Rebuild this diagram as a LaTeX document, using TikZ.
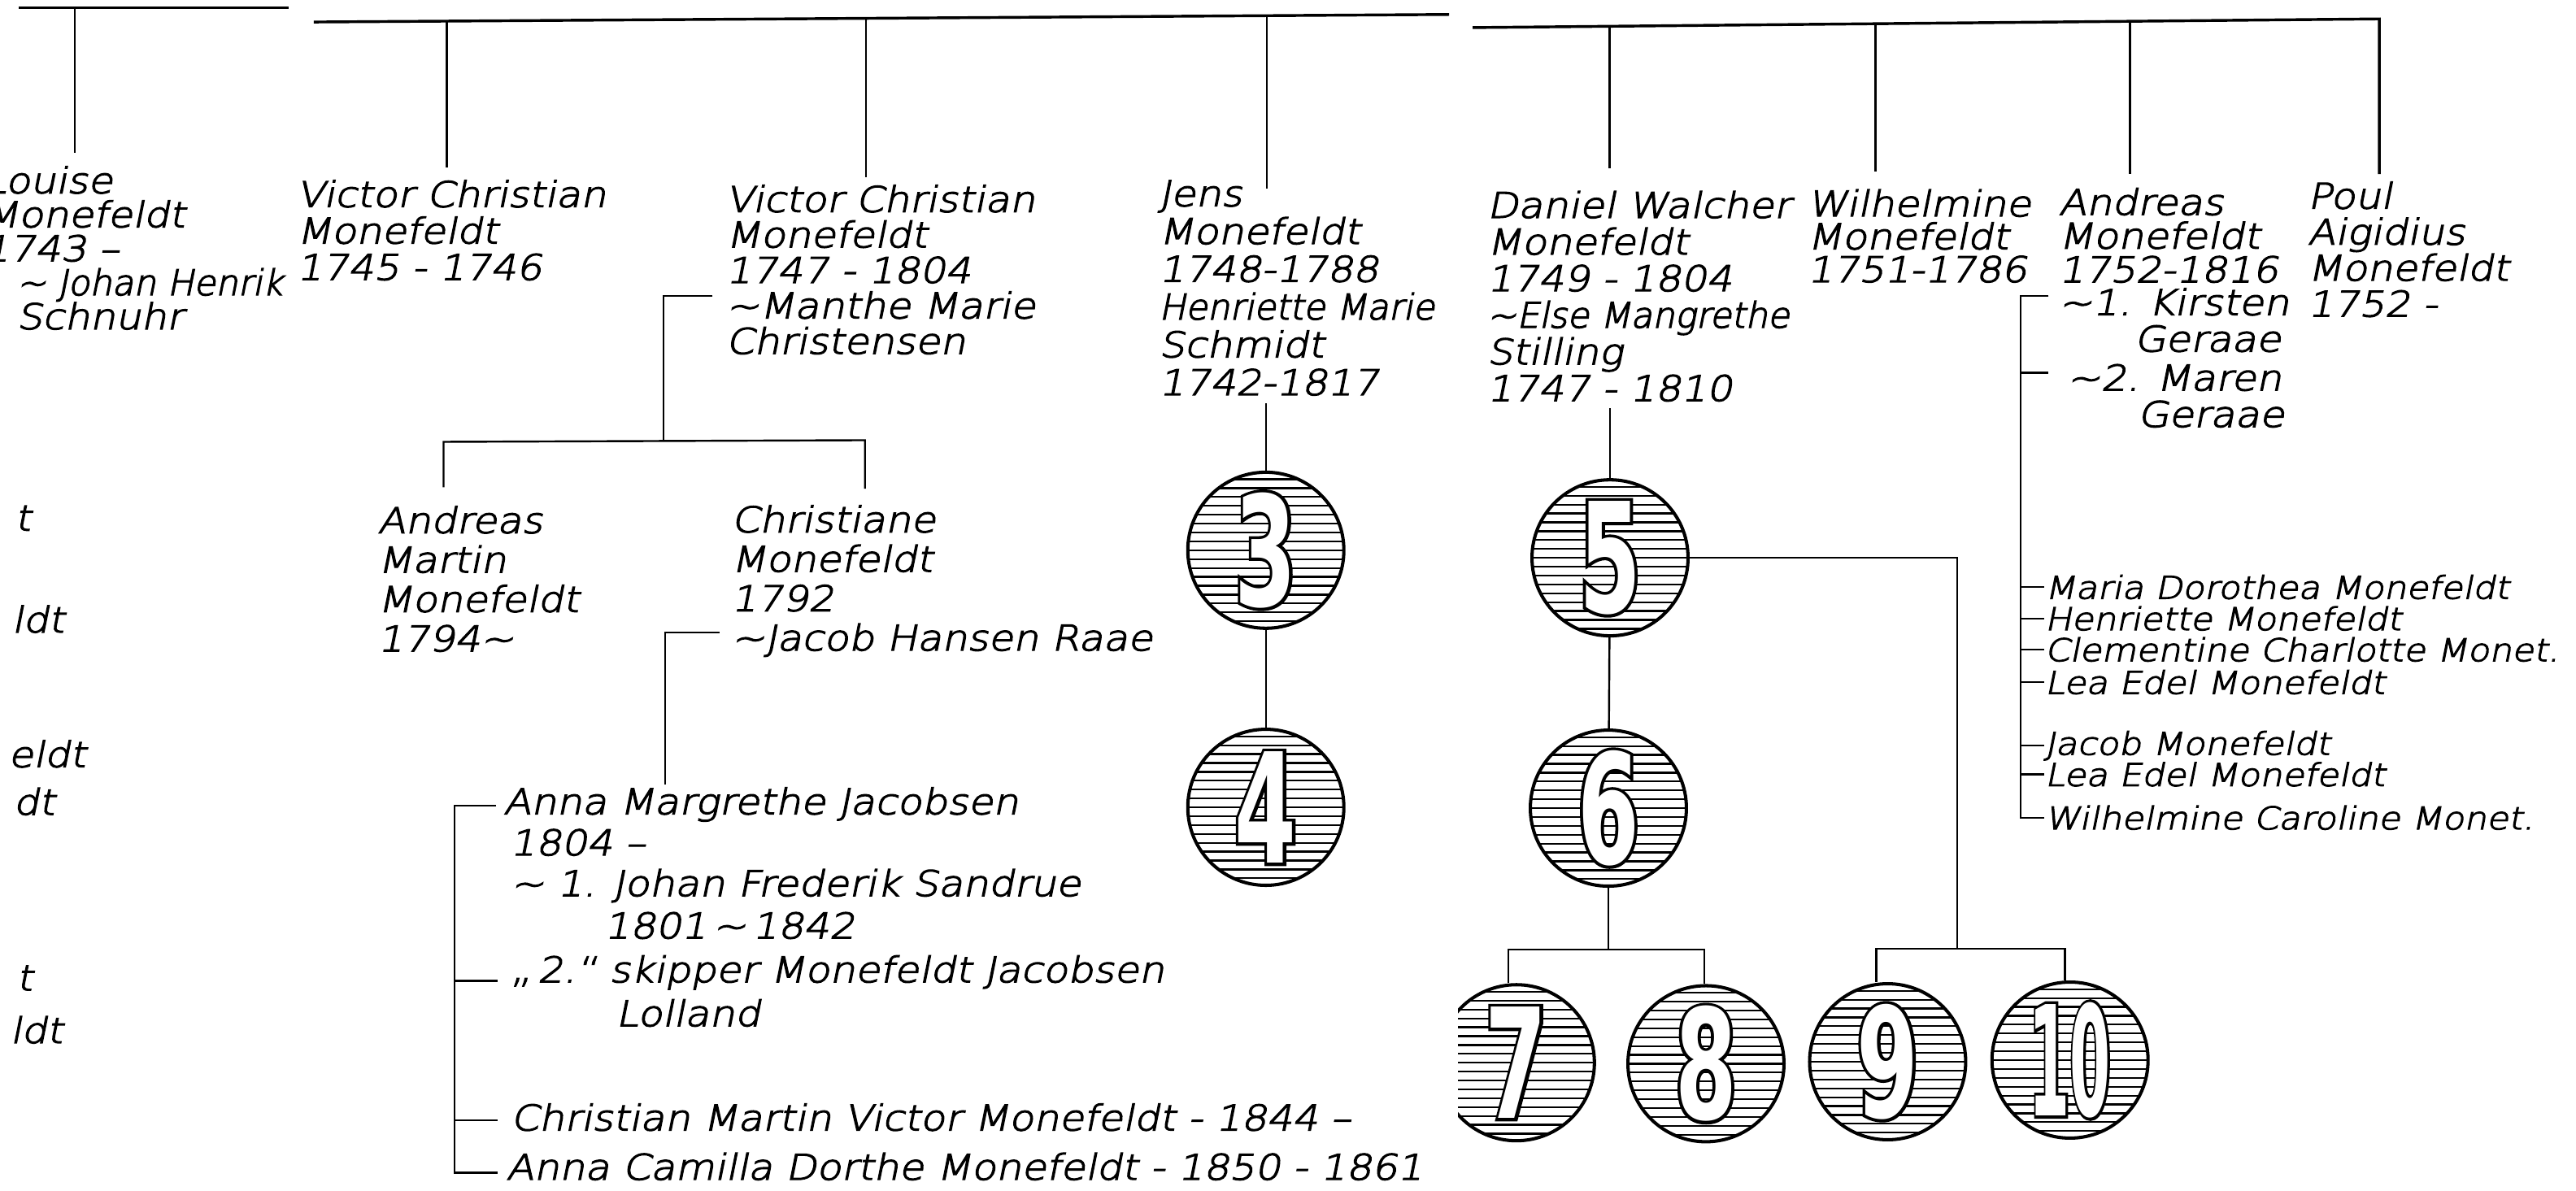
\documentclass[tikz,border=0pt]{standalone}
\usepackage{fontspec}
\usepackage{graphicx}
\usetikzlibrary{calc}
\newfontfamily\handfont{DejaVu Sans ExtraLight}[FakeSlant=0.2, FakeStretch=1.14, FakeBold=3]
\newfontfamily\handnarrow{DejaVu Sans ExtraLight}[FakeSlant=0.2, FakeStretch=1.0, FakeBold=3]
\newfontfamily\digitfont{DejaVu Sans}[FakeStretch=0.58]
\newfontfamily\digitrim{DejaVu Sans}[FakeStretch=0.58, FakeBold=4]

\begin{document}
\begin{tikzpicture}[x=1pt, y=-1pt,
  hand/.style={inner sep=0pt, anchor=base west, align=left,
               font=\handfont\fontsize{21.5}{#1}\selectfont},
  hand/.default=22,
  kid/.style={inner sep=0pt, anchor=base west,
              font=\handfont\fontsize{19}{20}\selectfont},
  bar/.style={line width=1.7pt},
  famline/.style={line width=1.2pt},
  ball/.style={circle, draw, line width=2pt, minimum size=95pt, inner sep=0pt},
  hatch/.style={line width=1.1pt},
  digit/.style={inner sep=0pt, text=white, font=\digitfont\bfseries\fontsize{93}{93}\selectfont},
  rim/.style={inner sep=0pt, text=black, font=\digitrim\bfseries\fontsize{93}{93}\selectfont}
]
\useasboundingbox (0,0) rectangle (1568,725);
\clip (0,0) rectangle (1568,725);

% Numbered balls
\foreach \n/\x/\y/\w/\cut in {3/770.5/335/1/0, 4/770.5/491.5/1/0,
    5/980/339.6/1/0, 6/979/492/1/0, 7/923/647/1/887.5,
    8/1038.4/647.6/1/0, 9/1149/646.4/1/0, 10/1260/645.4/0.66/0}{
  \begin{scope}
    \clip (\cut,0) rectangle (1568,725);
    \begin{scope}
      \clip (\x,\y) circle (47.5);
      \foreach \k in {-9,...,9}
        \draw[hatch] ({\x-48},{\y+\k*5.4}) -- ({\x+48},{\y+\k*5.4});
    \end{scope}
    \node[ball] (b\n) at (\x,\y) {};
    \node[rim] (r\n) at (\x,\y) {\scalebox{\w}[1]{\n}};
    \node[digit] (d\n) at (\x,\y) {\scalebox{\w}[1]{\n}};
  \end{scope}
}

% First generation (nodes sit on the baseline of their last line)
\node[hand=20.7] (louise) at (-10,200.4)
  {Louise\\Monefeldt\\1743 –\\\hspace*{20pt}{\handnarrow\textasciitilde\ Johan Henrik}\\\hspace*{20pt}Schnuhr};
\node[hand=22.2] (vc45) at (180.5,170.4) {Victor Christian\\Monefeldt\\1745 - 1746};
\node[hand=21.6] (vc47) at (441.7,215.4)
  {Victor Christian\\Monefeldt\\1747 - 1804\\\textasciitilde Manthe Marie\\Christensen};
\node[hand=23] (jens) at (705.3,240.5)
  {Jens\\Monefeldt\\1748-1788\\{\handnarrow Henriette Marie}\\Schmidt\\1742-1817};
\node[hand=22.3] (daniel) at (905,244.1)
  {Daniel Walcher\\Monefeldt\\1749 - 1804\\{\handnarrow\textasciitilde Else Mangrethe}\\Stilling\\1747 - 1810};
\node[hand=20] (wilh) at (1100,171.7) {Wilhelmine\\Monefeldt\\1751-1786};
\node[hand=20.5] (andreas) at (1253,171.8) {Andreas\\Monefeldt\\1752-1816};
\node[hand=22.2] (and-m1) at (1253,214) {\textasciitilde 1. Kirsten\\\hspace*{46pt}Geraae};
\node[hand=22.2] (and-m2) at (1258,259.9) {\textasciitilde 2. Maren\\\hspace*{43pt}Geraae};
\node[hand=21.9] (poul) at (1404.5,192.7) {Poul\\Aigidius\\Monefeldt\\1752 -};

% Cut-off words at the left edge
\node[hand] (frag1) at (9,323) {t};
\node[hand] (frag2) at (7,385) {ldt};
\node[hand] (frag3) at (5,467) {eldt};
\node[hand] (frag4) at (8,496) {dt};
\node[hand] (frag5) at (10,603) {t};
\node[hand] (frag6) at (6,635) {ldt};

% Second generation
\node[hand=24] (am) at (229.8,396.5) {Andreas\\Martin\\Monefeldt\\1794\textasciitilde};
\node[hand=24] (ch) at (445,396) {Christiane\\Monefeldt\\1792\\\textasciitilde Jacob Hansen Raae};

% Third generation
\node[hand=25] (an1) at (306.3,520.7) {Anna Margrethe Jacobsen\\\hspace*{4pt}1804 –};
\node[hand=25.8] (an-m1) at (310.7,571.3)
  {\textasciitilde\ 1. Johan Frederik Sandrue\\\hspace*{57pt}1801\,\textasciitilde\,1842};
\node[hand=26.7] (an-m2) at (310.7,624.7) {„\,2.“ skipper Monefeldt Jacobsen\\\hspace*{64pt}Lolland};
\node[hand] (an-c1) at (310.7,688.2) {Christian Martin Victor Monefeldt - 1844 –};
\node[hand] (an-c2) at (308,718.2) {Anna Camilla Dorthe Monefeldt - 1850 - 1861};

% Children of Andreas
\node[kid] (k1) at (1244.5,364.5) {Maria Dorothea Monefeldt};
\node[kid] (k2) at (1244.5,383.6) {Henriette Monefeldt};
\node[kid] (k3) at (1244.5,402.5) {Clementine Charlotte Monet.};
\node[kid] (k4) at (1244.5,422.4) {Lea Edel Monefeldt};
\node[kid] (k5) at (1244.5,459.5) {Jacob Monefeldt};
\node[kid] (k6) at (1244.5,478.5) {Lea Edel Monefeldt};
\node[kid] (k7) at (1244.5,504.9) {Wilhelmine Caroline Monet.};

% Top bars
\coordinate (bar1-l) at (11.4,4.7);   \coordinate (bar1-r) at (175.5,4.7);
\coordinate (louise-up) at (45.5,4.7); \coordinate (louise-dn) at (45.5,93);
\coordinate (bar2-l) at (191,13.4);   \coordinate (bar2-r) at (882,8.8);
\coordinate (vc45-up) at (272,12.9);  \coordinate (vc45-dn) at (272,101.8);
\coordinate (vc47-up) at (527,11.2);  \coordinate (vc47-dn) at (527,107.8);
\coordinate (jens-up) at (771,9.6);   \coordinate (jens-dn) at (771,115);
\coordinate (bar3-l) at (896.4,16.8); \coordinate (bar3-r) at (1448.3,11.5);
\coordinate (daniel-up) at (979.7,16);    \coordinate (daniel-dn) at (979.7,102.5);
\coordinate (wilh-up) at (1141.6,14.5);   \coordinate (wilh-dn) at (1141.6,104.3);
\coordinate (andreas-up) at (1296.4,13);  \coordinate (andreas-dn) at (1296.4,106);
\coordinate (poul-dn) at (1448.3,106);

\draw[bar] (bar1-l) -- (bar1-r);
\draw[famline] (louise-up) -- (louise-dn);
\draw[bar] (bar2-l) -- (bar2-r);
\foreach \p in {vc45,vc47,jens} \draw[famline] (\p-up) -- (\p-dn);
\draw[bar] (bar3-l) -- (bar3-r) -- (poul-dn);
\foreach \p in {daniel,wilh,andreas} \draw[famline] (\p-up) -- (\p-dn);

% Victor Christian's children
\coordinate (vc47-m) at (433.8,180.3);
\coordinate (kids1-j) at (404,268.5);
\coordinate (kids1-l) at (270,269);  \coordinate (kids1-r) at (526.5,268);
\coordinate (am-up) at (270,296.7);  \coordinate (ch-up) at (526.5,297.5);
\draw[famline] (vc47-m) -| (kids1-j);
\draw[famline] (am-up) -- (kids1-l) -- (kids1-r) -- (ch-up);

% Christiane's children
\coordinate (ch-m) at (438,385);  \coordinate (ch-dn) at (404.8,477.7);
\draw[famline] (ch-m) -| (ch-dn);
\coordinate (anbr-t) at (276.7,490.6); \coordinate (anbr-b) at (276.7,714);
\coordinate (t-an1) at (302,490.6);  \coordinate (t-an2) at (303,597.2);
\coordinate (t-an3) at (303,682);    \coordinate (t-an4) at (303,714);
\draw[famline] (t-an1) -- (anbr-t) -- (anbr-b) -- (t-an4);
\draw[famline] (anbr-t |- t-an2) -- (t-an2);
\draw[famline] (anbr-t |- t-an3) -- (t-an3);

% Jens and Daniel down to the balls
\coordinate (jens-low) at (770.5,245.7);
\coordinate (daniel-low) at (980,248.5);
\draw[famline] (jens-low) -- (b3.north);
\draw[famline] (b3) -- (b4);
\draw[famline] (daniel-low) -- (b5.north);
\draw[famline] (b5) -- (b6);

% Lower brackets
\coordinate (kids2-l) at (918,578);    \coordinate (kids2-r) at (1037.4,578);
\draw[famline] (b6.south) -- (b6.south |- kids2-l);
\draw[famline] (kids2-l |- b7.north) -- (kids2-l) -- (kids2-r) -- (kids2-r |- b8.north);
\coordinate (kids3-m) at (1191.4,577.5);
\coordinate (kids3-l) at (1142,577.5); \coordinate (kids3-r) at (1257,577.5);
\draw[famline] (b5.east) -| (kids3-m);
\draw[famline] (kids3-l |- b9.north) -- (kids3-l) -- (kids3-r) -- (kids3-r |- b10.north);

% Andreas' bracket
\coordinate (andbr-t) at (1230,180.3);
\coordinate (t-and1) at (1247,180.3); \coordinate (t-and2) at (1247,227);
\draw[famline] (t-and1) -- (andbr-t) -- (andbr-t |- k7.west) -- (k7.west);
\draw[famline] (andbr-t |- t-and2) -- (t-and2);
\foreach \k in {1,...,6} \draw[famline] (andbr-t |- k\k.west) -- (k\k.west);
\end{tikzpicture}
\end{document}
